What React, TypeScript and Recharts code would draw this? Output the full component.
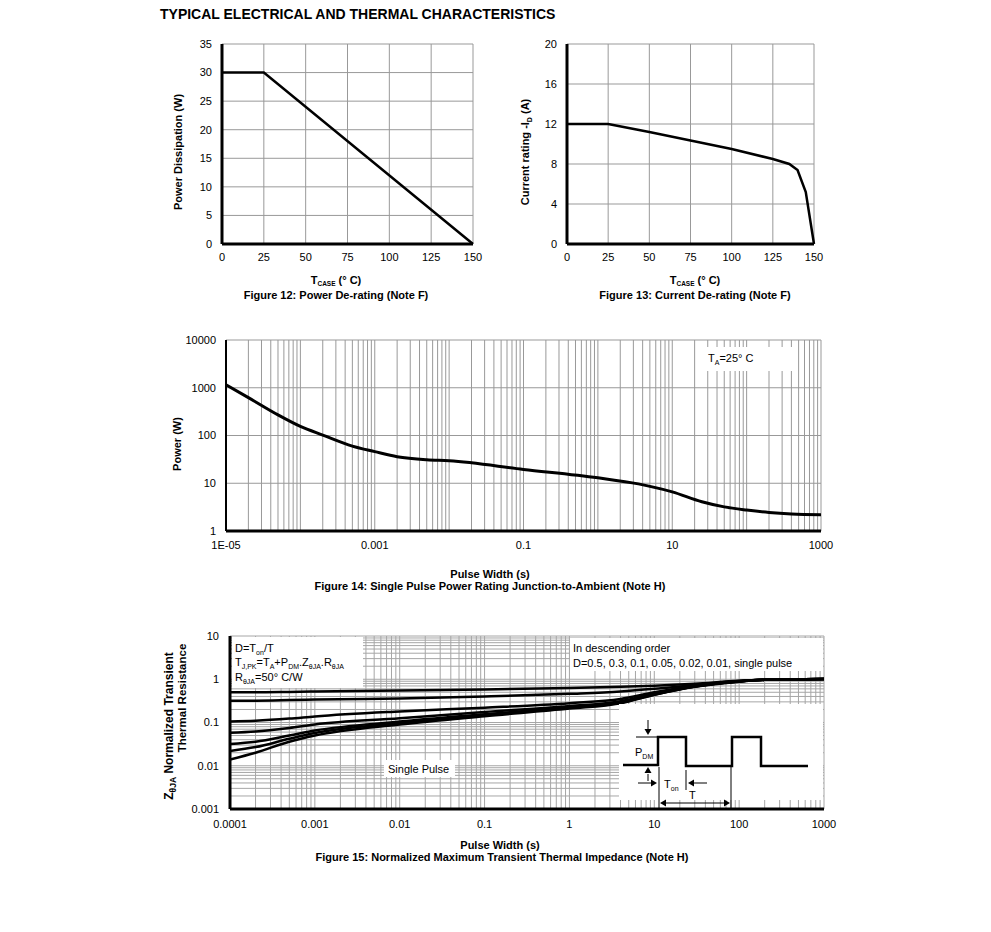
import React from 'react';
import { LineChart, Line, XAxis, YAxis, CartesianGrid } from 'recharts';

const FONT = '"Liberation Sans", Arial, Helvetica, sans-serif';

// ---------- Figure 12: Power De-rating ----------
const fig12Temp = [0, 25, 150];
const fig12Power = [30, 30, 0];
const fig12XTicks = [0, 25, 50, 75, 100, 125, 150];
const fig12YTicks = [0, 5, 10, 15, 20, 25, 30, 35];

// ---------- Figure 13: Current De-rating ----------
const fig13Temp = [0, 25, 50, 75, 100, 125, 135, 140, 145, 150];
const fig13Current = [12, 12, 11.2, 10.35, 9.5, 8.5, 8.0, 7.4, 5.2, 0];
const fig13XTicks = [0, 25, 50, 75, 100, 125, 150];
const fig13YTicks = [0, 4, 8, 12, 16, 20];

// ---------- Figure 14: Single Pulse Power ----------
const fig14Width = [1e-5, 2e-5, 5e-5, 1e-4, 2e-4, 5e-4, 1e-3, 2e-3, 5e-3, 1e-2, 0.1, 1, 3.5, 10, 25, 50, 100, 200, 400, 1000];
const fig14Power = [1150, 620, 270, 155, 102, 60, 46, 36, 31, 29.5, 19.5, 13, 9.7, 6.6, 4.1, 3.2, 2.75, 2.45, 2.28, 2.2];
const fig14XTicks = [1e-5, 1e-3, 0.1, 10, 1000];
const fig14XLabels = ['1E-05', '0.001', '0.1', '10', '1000'];
const fig14YTicks = [1, 10, 100, 1000, 10000];
const fig14YLabels = ['1', '10', '100', '1000', '10000'];

// ---------- Figure 15: Transient Thermal Impedance ----------
const fig15Time = [1e-4, 2e-4, 5e-4, 1e-3, 1e-2, 0.1, 1, 4, 10, 30, 100, 200, 1000];
const fig15D05 = [0.5, 0.5, 0.51, 0.52, 0.55, 0.58, 0.63, 0.67, 0.71, 0.79, 0.92, 0.97, 1.02];
const fig15D03 = [0.32, 0.32, 0.33, 0.34, 0.36, 0.4, 0.46, 0.52, 0.6, 0.74, 0.91, 0.97, 1.02];
const fig15D01 = [0.106, 0.11, 0.123, 0.138, 0.18, 0.22, 0.28, 0.35, 0.5, 0.7, 0.9, 0.97, 1.02];
const fig15D005 = [0.058, 0.062, 0.075, 0.09, 0.125, 0.175, 0.24, 0.31, 0.47, 0.69, 0.9, 0.97, 1.02];
const fig15D002 = [0.032, 0.036, 0.05, 0.065, 0.105, 0.155, 0.225, 0.29, 0.45, 0.68, 0.89, 0.97, 1.02];
const fig15D001 = [0.022, 0.027, 0.042, 0.057, 0.097, 0.148, 0.22, 0.285, 0.44, 0.68, 0.89, 0.97, 1.02];
const fig15Single = [0.014, 0.02, 0.036, 0.05, 0.09, 0.14, 0.21, 0.28, 0.44, 0.67, 0.88, 0.97, 1.02];
const fig15XTicks = [1e-4, 1e-3, 1e-2, 0.1, 1, 10, 100, 1000];
const fig15XLabels = ['0.0001', '0.001', '0.01', '0.1', '1', '10', '100', '1000'];
const fig15YTicks = [0.001, 0.01, 0.1, 1, 10];
const fig15YLabels = ['0.001', '0.01', '0.1', '1', '10'];

const fig12Data = fig12Temp.map((t, i) => ({ t, p: fig12Power[i] }));
const fig13Data = fig13Temp.map((t, i) => ({ t, c: fig13Current[i] }));
const fig14Data = fig14Width.map((t, i) => ({ t, p: fig14Power[i] }));
const fig15Data = fig15Time.map((t, i) => ({
  t,
  d05: fig15D05[i],
  d03: fig15D03[i],
  d01: fig15D01[i],
  d005: fig15D005[i],
  d002: fig15D002[i],
  d001: fig15D001[i],
  sp: fig15Single[i],
}));
const fig15Keys = ['d05', 'd03', 'd01', 'd005', 'd002', 'd001', 'sp'];

function logMinors(lo: number, hi: number): number[] {
  const out: number[] = [];
  const e0 = Math.round(Math.log10(lo));
  const e1 = Math.round(Math.log10(hi));
  for (let e = e0; e < e1; e++) {
    for (let k = 1; k <= 9; k++) out.push(Number((k * Math.pow(10, e)).toPrecision(6)));
  }
  out.push(hi);
  return out;
}

const YW = 60;
const XH = 30;
const MT = 10;
const MR = 30;

type Rect = { x: number; y: number; w: number; h: number };
const r12: Rect = { x: 222, y: 44, w: 251, h: 200 };
const r13: Rect = { x: 567, y: 44, w: 247, h: 200 };
const r14: Rect = { x: 226, y: 340, w: 595, h: 191 };
const r15: Rect = { x: 230, y: 636, w: 594, h: 173 };

const tickStyle = { fontSize: 11, fill: '#000', fontFamily: FONT };
const axisStrong = { stroke: '#000', strokeWidth: 3 };
const GRID = '#999';

function Place({ r, children }: { r: Rect; children: React.ReactNode }) {
  return (
    <div style={{ position: 'absolute', left: r.x - YW, top: r.y - MT }}>{children}</div>
  );
}

function chartSize(r: Rect) {
  return { width: YW + r.w + MR, height: MT + r.h + XH };
}
const margin = { top: MT, right: MR, bottom: 0, left: 0 };

function Sub({ children, size = 7, shift = 3 }: { children: React.ReactNode; size?: number; shift?: number }) {
  return (
    <tspan fontSize={size} dy={shift}>
      {children}
    </tspan>
  );
}

function Arrow({ x, y, dir }: { x: number; y: number; dir: 'up' | 'down' | 'left' | 'right' }) {
  const s = 3.5;
  const l = 6;
  let pts = '';
  if (dir === 'down') pts = `${x},${y} ${x - s},${y - l} ${x + s},${y - l}`;
  if (dir === 'up') pts = `${x},${y} ${x - s},${y + l} ${x + s},${y + l}`;
  if (dir === 'right') pts = `${x},${y} ${x - l},${y - s} ${x - l},${y + s}`;
  if (dir === 'left') pts = `${x},${y} ${x + l},${y - s} ${x + l},${y + s}`;
  return <polygon points={pts} fill="#000" />;
}

export default function App() {
  const fig14V = logMinors(1e-5, 1000);
  const fig15V = logMinors(1e-4, 1000);
  const fig15H = logMinors(0.001, 10);
  return (
    <div style={{ position: 'absolute', left: 0, top: 0, width: 991, height: 932, background: '#fff', fontFamily: FONT }}>
      {/* Figure 12 */}
      <Place r={r12}>
        <LineChart {...chartSize(r12)} data={fig12Data} margin={margin}>
          <CartesianGrid stroke={GRID} strokeWidth={1} verticalValues={fig12XTicks} horizontalValues={fig12YTicks} />
          <XAxis type="number" dataKey="t" domain={[0, 150]} ticks={fig12XTicks} interval={0} height={XH}
            axisLine={axisStrong} tickLine={false} tickSize={0} tickMargin={9} tick={tickStyle} />
          <YAxis type="number" domain={[0, 35]} ticks={fig12YTicks} interval={0} width={YW}
            axisLine={axisStrong} tickLine={false} tickSize={0} tickMargin={10} tick={tickStyle} />
          <Line type="linear" dataKey="p" stroke="#000" strokeWidth={2.5} dot={false} isAnimationActive={false} />
        </LineChart>
      </Place>

      {/* Figure 13 */}
      <Place r={r13}>
        <LineChart {...chartSize(r13)} data={fig13Data} margin={margin}>
          <CartesianGrid stroke={GRID} strokeWidth={1} verticalValues={fig13XTicks} horizontalValues={fig13YTicks} />
          <XAxis type="number" dataKey="t" domain={[0, 150]} ticks={fig13XTicks} interval={0} height={XH}
            axisLine={axisStrong} tickLine={false} tickSize={0} tickMargin={9} tick={tickStyle} />
          <YAxis type="number" domain={[0, 20]} ticks={fig13YTicks} interval={0} width={YW}
            axisLine={axisStrong} tickLine={false} tickSize={0} tickMargin={10} tick={tickStyle} />
          <Line type="linear" dataKey="c" stroke="#000" strokeWidth={2.5} dot={false} isAnimationActive={false} />
        </LineChart>
      </Place>

      {/* Figure 14 */}
      <Place r={r14}>
        <LineChart {...chartSize(r14)} data={fig14Data} margin={margin}>
          <CartesianGrid stroke={GRID} strokeWidth={1} verticalValues={fig14V} horizontalValues={fig14YTicks} />
          <XAxis type="number" dataKey="t" scale="log" domain={[1e-5, 1000]} allowDataOverflow ticks={fig14XTicks}
            interval={0} height={XH} axisLine={axisStrong} tickLine={false} tickSize={0} tickMargin={10} tick={tickStyle}
            tickFormatter={(v: number) => fig14XLabels[fig14XTicks.findIndex((x) => Math.abs(x - v) / x < 1e-6)] ?? String(v)} />
          <YAxis type="number" scale="log" domain={[1, 10000]} allowDataOverflow ticks={fig14YTicks} interval={0}
            width={YW} axisLine={{ stroke: '#000', strokeWidth: 2 }} tickLine={false} tickSize={0} tickMargin={10} tick={tickStyle}
            tickFormatter={(v: number) => fig14YLabels[fig14YTicks.findIndex((x) => Math.abs(x - v) / x < 1e-6)] ?? String(v)} />
          <Line type="monotone" dataKey="p" stroke="#000" strokeWidth={3} dot={false} isAnimationActive={false} />
        </LineChart>
      </Place>

      {/* Figure 15 */}
      <Place r={r15}>
        <LineChart {...chartSize(r15)} data={fig15Data} margin={margin}>
          <CartesianGrid stroke="#a6a6a6" strokeWidth={1} verticalValues={fig15V} horizontalValues={fig15H} />
          <XAxis type="number" dataKey="t" scale="log" domain={[1e-4, 1000]} allowDataOverflow ticks={fig15XTicks}
            interval={0} height={XH} axisLine={axisStrong} tickLine={false} tickSize={0} tickMargin={11} tick={tickStyle}
            tickFormatter={(v: number) => fig15XLabels[fig15XTicks.findIndex((x) => Math.abs(x - v) / x < 1e-6)] ?? String(v)} />
          <YAxis type="number" scale="log" domain={[0.001, 10]} allowDataOverflow ticks={fig15YTicks} interval={0}
            width={YW} axisLine={axisStrong} tickLine={false} tickSize={0} tickMargin={11} tick={tickStyle}
            tickFormatter={(v: number) => fig15YLabels[fig15YTicks.findIndex((x) => Math.abs(x - v) / x < 1e-6)] ?? String(v)} />
          {fig15Keys.map((k) => (
            <Line key={k} type="monotone" dataKey={k} stroke="#000" strokeWidth={2.5} dot={false} isAnimationActive={false} />
          ))}
        </LineChart>
      </Place>

      {/* Text and annotation overlay */}
      <svg width={991} height={932} style={{ position: 'absolute', left: 0, top: 0, pointerEvents: 'none' }} fontFamily={FONT}>
        <text x={160} y={19} fontSize={14} fontWeight="bold">TYPICAL ELECTRICAL AND THERMAL CHARACTERISTICS</text>

        {/* Fig 12 titles */}
        <text x={182} y={152} fontSize={11} fontWeight="bold" textAnchor="middle" transform="rotate(-90 182 152)">Power Dissipation (W)</text>
        <text x={336} y={284} fontSize={11} fontWeight="bold" textAnchor="middle">T<Sub size={6.5} shift={2}>CASE</Sub><tspan dy={-2}> (°  C)</tspan></text>
        <text x={336} y={299} fontSize={11} fontWeight="bold" textAnchor="middle">Figure 12: Power De-rating (Note F)</text>

        {/* Fig 13 titles */}
        <text x={529} y={152} fontSize={11} fontWeight="bold" textAnchor="middle" transform="rotate(-90 529 152)">Current rating -I<Sub>D</Sub><tspan dy={-3}> (A)</tspan></text>
        <text x={695} y={284} fontSize={11} fontWeight="bold" textAnchor="middle">T<Sub size={6.5} shift={2}>CASE</Sub><tspan dy={-2}> (°  C)</tspan></text>
        <text x={695} y={299} fontSize={11} fontWeight="bold" textAnchor="middle">Figure 13: Current De-rating (Note F)</text>

        {/* Fig 14 titles */}
        <text x={181} y={444} fontSize={11} fontWeight="bold" textAnchor="middle" transform="rotate(-90 181 444)">Power (W)</text>
        <text x={490} y={578} fontSize={11} fontWeight="bold" textAnchor="middle">Pulse Width (s)</text>
        <text x={490} y={590} fontSize={11} fontWeight="bold" textAnchor="middle">Figure 14: Single Pulse Power Rating Junction-to-Ambient (Note H)</text>
        <rect x={703} y={347} width={92} height={24} fill="#fff" />
        <text x={708} y={362} fontSize={11}>T<Sub size={7} shift={3}>A</Sub><tspan dy={-3}>=25°  C</tspan></text>

        {/* Fig 15 titles */}
        <text x={173} y={726} fontSize={12} fontWeight="bold" textAnchor="middle" transform="rotate(-90 173 726)">Z<Sub size={8.5} shift={3}>θJA</Sub><tspan dy={-3}> Normalized Transient</tspan></text>
        <text x={186} y={698} fontSize={11.5} fontWeight="bold" textAnchor="middle" transform="rotate(-90 186 698)">Thermal Resistance</text>
        <text x={500} y={849} fontSize={11} fontWeight="bold" textAnchor="middle">Pulse Width (s)</text>
        <text x={502} y={861} fontSize={11} fontWeight="bold" textAnchor="middle">Figure 15: Normalized Maximum Transient Thermal Impedance (Note H)</text>

        <rect x={232} y={637} width={131} height={51} fill="#fff" />
        <text x={235} y={652} fontSize={11}>D=T<Sub>on</Sub><tspan dy={-3}>/T</tspan></text>
        <text x={235} y={666} fontSize={11}>T<Sub>J,PK</Sub><tspan dy={-3}>=T</tspan><Sub>A</Sub><tspan dy={-3}>+P</tspan><Sub>DM</Sub><tspan dy={-3}>.Z</tspan><Sub>θJA</Sub><tspan dy={-3}>.R</tspan><Sub>θJA</Sub></text>
        <text x={235} y={681} fontSize={11}>R<Sub>θJA</Sub><tspan dy={-3}>=50°  C/W</tspan></text>

        <rect x={570} y={638} width={253} height={33} fill="#fff" />
        <text x={573} y={652} fontSize={11}>In descending order</text>
        <text x={573} y={667} fontSize={11}>D=0.5, 0.3, 0.1, 0.05, 0.02, 0.01, single pulse</text>

        <rect x={384} y={760} width={71} height={17} fill="#fff" />
        <text x={388} y={773} fontSize={11}>Single Pulse</text>

        {/* Inset pulse diagram */}
        <rect x={619} y={704} width={204} height={96} fill="#fff" />
        <polyline points="623,765 658,765 658,737 686,737 686,766 732,766 732,737 761,737 761,766 808,766"
          fill="none" stroke="#000" strokeWidth={2.5} />
        <line x1={659} y1={767} x2={659} y2={809} stroke="#000" strokeWidth={1} />
        <line x1={731} y1={767} x2={731} y2={809} stroke="#000" strokeWidth={1} />
        <line x1={686} y1={770} x2={686} y2={790} stroke="#000" strokeWidth={1} />
        <line x1={636} y1={737} x2={657} y2={737} stroke="#000" strokeWidth={1} />
        <line x1={648} y1={720} x2={648} y2={730} stroke="#000" strokeWidth={1} />
        <Arrow x={648} y={735} dir="down" />
        <line x1={648} y1={774} x2={648} y2={781} stroke="#000" strokeWidth={1} />
        <Arrow x={648} y={767} dir="up" />
        <text x={635} y={756} fontSize={11}>P<Sub>DM</Sub></text>
        <line x1={638} y1={783} x2={652} y2={783} stroke="#000" strokeWidth={1} />
        <Arrow x={657} y={783} dir="right" />
        <line x1={694} y1={783} x2={707} y2={783} stroke="#000" strokeWidth={1} />
        <Arrow x={688} y={783} dir="left" />
        <text x={664} y={788} fontSize={11}>T<Sub>on</Sub></text>
        <line x1={666} y1={803} x2={724} y2={803} stroke="#000" strokeWidth={1} />
        <Arrow x={660} y={803} dir="left" />
        <Arrow x={730} y={803} dir="right" />
        <text x={689} y={799} fontSize={11}>T</text>
      </svg>
    </div>
  );
}
